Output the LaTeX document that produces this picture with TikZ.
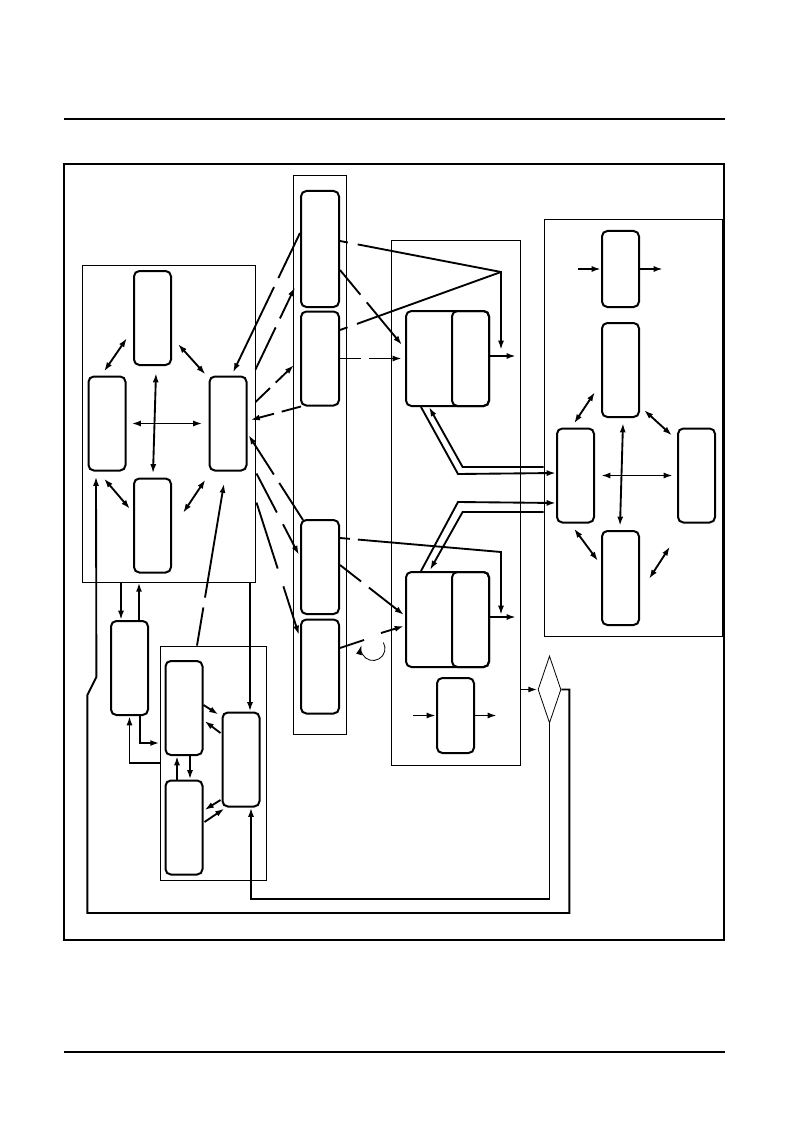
\documentclass[tikz,border=0pt]{standalone}
\usetikzlibrary{arrows,arrows.meta,calc,positioning,shapes.geometric}
\newcommand{\myunit}{0.75pt}
\tikzset{
    blocksty/.style={draw,rounded corners=4pt,line width=1.5pt,rectangle,inner sep=0pt,minimum width=37*\myunit,minimum height=94*\myunit,anchor=center},
    grpsty/.style={draw,rectangle,line width=0.6pt,inner sep=0pt,anchor=center},
    diasty/.style={draw,diamond,line width=0.6pt,inner sep=0pt,minimum width=23*\myunit,minimum height=67*\myunit},
    flowsty/.style={line width=1.4pt},
    dblsty/.style={line width=1.4pt,<->},
    gapsty/.style 2 args={line width=1.4pt,dash pattern=on #1 off #2 on 2000pt},
    loopsty/.style={line width=0.6pt},
    framesty/.style={line width=1.5pt},
    rulesty/.style={line width=2.2pt},
}

\begin{document}
\begin{tikzpicture}[>={Latex[length=7pt,width=4.5pt]},x=\myunit,y=-\myunit]
  \useasboundingbox (0,0) rectangle (793,1123);
  \draw[rulesty] (64,119) -- (725,119);
  \draw[rulesty] (64,1052) -- (725,1052);
  \draw[framesty] (64,164) rectangle (724,940);

  \node[grpsty,minimum width=173*\myunit,minimum height=317*\myunit] (Agrp) at (168.5,423.5) {};
  \node[grpsty,minimum width=106*\myunit,minimum height=234*\myunit] (Bgrp) at (213,763) {};
  \node[grpsty,minimum width=53*\myunit,minimum height=559*\myunit] (Mgrp) at (319.5,454.5) {};
  \node[grpsty,minimum width=129*\myunit,minimum height=525*\myunit] (Dgrp) at (455.5,502.5) {};
  \node[grpsty,minimum width=178*\myunit,minimum height=417*\myunit] (Egrp) at (633,427.5) {};

  \node[blocksty] (Atop) at (152.5,318) {};
  \node[blocksty] (Aleft) at (107,423.5) {};
  \node[blocksty] (Aright) at (228,423.5) {};
  \node[blocksty] (Abot) at (152.5,525.5) {};
  \node[blocksty] (Cbox) at (129.5,668) {};
  \node[blocksty] (B1) at (184,708) {};
  \node[blocksty] (B2) at (184,827.5) {};
  \node[blocksty] (B3) at (241,759.5) {};
  \node[blocksty,minimum width=38*\myunit,minimum height=116*\myunit] (M1) at (320,249) {};
  \node[blocksty,minimum width=38*\myunit] (M2) at (320,358.5) {};
  \node[blocksty,minimum width=38*\myunit] (M3) at (320,567) {};
  \node[blocksty,minimum width=38*\myunit] (M4) at (320,666.5) {};
  \node[blocksty,minimum width=83*\myunit,minimum height=95*\myunit] (D1) at (447.5,358.5) {};
  \node[blocksty,minimum height=95*\myunit] (D1r) at (470.5,358.5) {};
  \node[blocksty,minimum width=83*\myunit,minimum height=95*\myunit] (D2) at (447.5,619.5) {};
  \node[blocksty,minimum height=95*\myunit] (D2r) at (470.5,619.5) {};
  \node[blocksty,minimum height=75*\myunit] (D3) at (455.5,715.5) {};
  \node[blocksty,minimum height=76*\myunit] (E0) at (620.5,269) {};
  \node[blocksty] (E2) at (620.5,370) {};
  \node[blocksty] (E1) at (575.5,475.5) {};
  \node[blocksty] (E3) at (696.5,475.5) {};
  \node[blocksty] (E4) at (620.5,578) {};
  \node[diasty] (dia) at (549.5,689.5) {};

  \draw[dblsty] ([shift={(-6,20)}]Atop.west) -- ([shift={(-3,-4)}]Aleft.north);
  \draw[dblsty] ([shift={(6,26)}]Atop.east) -- ([shift={(-3,-1)}]Aright.north west);
  \draw[dblsty] ([shift={(5,0)}]Aleft.east) -- ([shift={(-6,0)}]Aright.west);
  \draw[dblsty] ([shift={(3.5,7)}]Atop.south) -- ([shift={(0.5,-4)}]Abot.north);
  \draw[dblsty] ([shift={(-3,7)}]Aleft.south) -- ([shift={(-3,-16.5)}]Abot.west);
  \draw[dblsty] ([shift={(11,-12.5)}]Abot.east) -- ([shift={(-3,8)}]Aright.south west);

  \coordinate (cin) at ([shift={(-8.5,0)}]Cbox.north);
  \coordinate (cout) at ([shift={(9.5,0)}]Cbox.north);
  \coordinate (bin) at ([shift={(9,0)}]B3.north);
  \draw[flowsty,->] (cin |- Agrp.south) -- (cin);
  \draw[flowsty,->] (cout) -- (cout |- Agrp.south);
  \draw[flowsty,->] ([shift={(10.5,0)}]Cbox.south) |- ([shift={(0,-20)}]Bgrp.west);
  \draw[flowsty,->] (Bgrp.west) -| (Cbox.south);
  \draw[flowsty,->] (bin |- Agrp.south) -- (bin);
  \draw[gapsty={29pt}{7.5pt},->] ([shift={(-16,0)}]Bgrp.north) -- ([shift={(-4,12)}]Aright.south);

  \draw[flowsty,->] ([shift={(0,-3)}]B1.east) -- ([shift={(-3,3)}]B3.north west);
  \draw[flowsty,->] ([shift={(-1,-26.5)}]B3.west) -- ([shift={(1,13)}]B1.east);
  \draw[flowsty,->] ([shift={(-7,0)}]B2.north) -- ([shift={(-7,0)}]B1.south);
  \draw[flowsty,->] ([shift={(6,0)}]B1.south) -- ([shift={(6,0)}]B2.north);
  \draw[flowsty,->] ([shift={(-1,40.5)}]B3.west) -- ([shift={(1,-17.5)}]B2.east);
  \draw[flowsty,->] ([shift={(1,-5.5)}]B2.east) -- ([shift={(3,1)}]B3.south west);

  \draw[flowsty,->] (Dgrp.east |- dia.west) -- (dia.west);
  \draw[flowsty,->] (dia.south) -- ++(0,176) -| ([shift={(10,0)}]B3.south);
  \draw[flowsty,->] (dia.east) -- ++(8,0) -- ++(0,223.5) -- ++(-482,0) -- ++(0,-218) -- ++(9,-18) -- ([shift={(-11,5)}]Aleft.south);

  \draw[gapsty={37.5pt}{7.5pt},->] ([shift={(0,-16)}]M1.west) -- ([shift={(5,-3)}]Aright.north);
  \draw[gapsty={35pt}{7.5pt},->] ([shift={(8,-6)}]Aright.north east) -- ([shift={(-5,38)}]M1.west);
  \draw[gapsty={15pt}{6pt},->] ([shift={(8,-21.5)}]Aright.east) -- ([shift={(-6,6.5)}]M2.west);
  \draw[gapsty={15pt}{6pt},->] ([shift={(1,0)}]M2.south west) -- ([shift={(3,-3.5)}]Aright.east);
  \draw[gapsty={33pt}{7.5pt},->] ([shift={(3,1)}]M3.north west) -- ([shift={(1,11.5)}]Aright.east);
  \draw[gapsty={33pt}{10pt},->] ([shift={(9,2)}]Aright.south east) -- ([shift={(-1,-12)}]M3.west);
  \draw[gapsty={52pt}{14pt},->] ([shift={(9,31)}]Aright.south east) -- ([shift={(-1,-31.5)}]M4.west);

  \draw[gapsty={24pt}{7.5pt},->] ([shift={(0,21)}]M1.east) -- ([shift={(-3,-13.5)}]D1.west);
  \draw[gapsty={16pt}{6pt},->] (M2.east) -- ([shift={(-3,0)}]D1.west);
  \draw[gapsty={20pt}{7.5pt},->] ([shift={(0,-2)}]M3.east) -- ([shift={(-1,-4.5)}]D2.west);
  \coordinate (loopc) at ($(M4.east)+(33,-18)$);
  \draw[flowsty] ([shift={(0,-18.5)}]M4.east) -- ++(24,-8);
  \draw[loopsty,->] ($(loopc)+(-30:12)$) arc[start angle=-30,end angle=195,radius=12];
  \draw[flowsty,->] ([shift={(41,-33.5)}]M4.east) -- ([shift={(-1,6.5)}]D2.west);

  \coordinate (jn1) at ($(D1.north east)+(11,-38)$);
  \coordinate (jn2) at ($(D2.north east)+(11,-19)$);
  \draw[gapsty={6pt}{7.5pt},->] ([shift={(0,-8)}]M1.east) -- (jn1) -- ([shift={(11,-8.5)}]D1.east);
  \draw[gapsty={6pt}{7.5pt}] ([shift={(0,-28.5)}]M2.east) -- (jn1);
  \draw[gapsty={7.5pt}{6pt},->] ([shift={(0,-29)}]M3.east) -- (jn2) -- ([shift={(11,-4.5)}]D2.east);
  \draw[flowsty,->] ([shift={(0,-2.5)}]D1.east) -- ++(26,0);
  \draw[flowsty,->] ([shift={(0,-2.5)}]D2.east) -- ++(26,0);
  \draw[flowsty,->] ([shift={(-23,0)}]D3.west) -- (D3.west);
  \draw[flowsty,->] (D3.east) -- ++(22,0);

  \draw[flowsty,->] ([shift={(16,0)}]D1.south west) -- ++(37,67) -- ([shift={(0,-2.5)}]E1.west);
  \draw[flowsty,->] ([shift={(0,39.5)}]Egrp.west) -- ++(-81,0) -- ([shift={(24,0)}]D1.south west);
  \draw[flowsty,->] ([shift={(16,0)}]D2.north west) -- ++(37,-69) -- ([shift={(0,27.5)}]E1.west);
  \draw[flowsty,->] ([shift={(0,84.5)}]Egrp.west) -- ++(-81,0) -- ([shift={(25,-1)}]D2.north west);

  \draw[flowsty,->] ([shift={(-23,0)}]E0.west) -- (E0.west);
  \draw[flowsty,->] (E0.east) -- ++(23,0);
  \draw[dblsty] ([shift={(-21,-4)}]E1.north east) -- ([shift={(-6,-26)}]E2.south west);
  \draw[dblsty] ([shift={(4,-8)}]E2.south east) -- ([shift={(-5,8)}]E3.north west);
  \draw[dblsty] ([shift={(6,0)}]E1.east) -- ([shift={(-4,0)}]E3.west);
  \draw[dblsty] ([shift={(2.5,5)}]E2.south) -- ([shift={(-0.5,-4)}]E4.north);
  \draw[dblsty] ([shift={(-21,5)}]E1.south east) -- ([shift={(-3,31)}]E4.north west);
  \draw[dblsty] ([shift={(9,49)}]E4.north east) -- ([shift={(-7,23)}]E3.south west);
\end{tikzpicture}
\end{document}
